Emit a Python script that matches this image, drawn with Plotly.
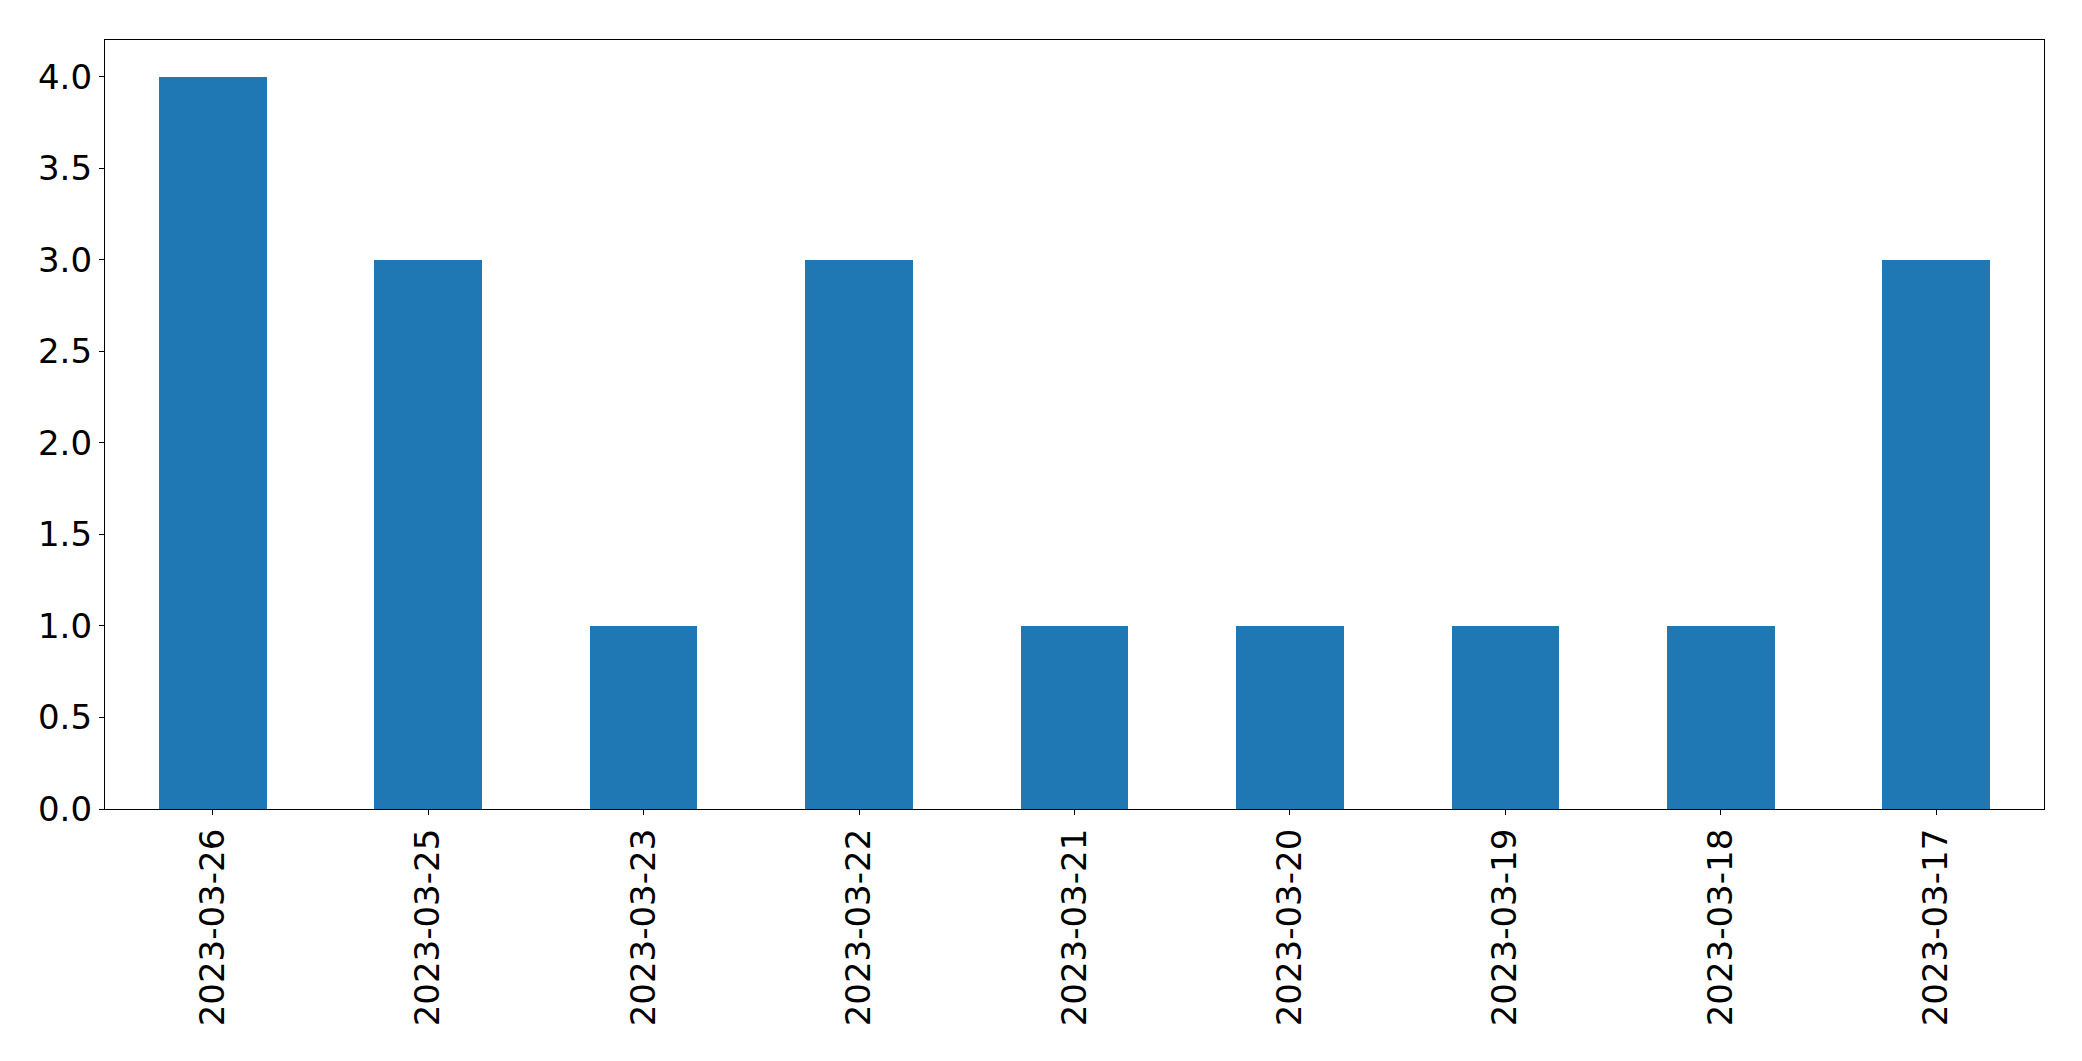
import plotly.graph_objects as go

dates = ["2023-03-26", "2023-03-25", "2023-03-23", "2023-03-22", "2023-03-21",
         "2023-03-20", "2023-03-19", "2023-03-18", "2023-03-17"]
counts = [4, 3, 1, 3, 1, 1, 1, 1, 3]
y_ticks = [0.0, 0.5, 1.0, 1.5, 2.0, 2.5, 3.0, 3.5, 4.0]

fig = go.Figure(go.Bar(x=list(range(len(dates))), y=counts, width=0.5,
                       marker=dict(color="#1f77b4", line=dict(width=0))))

font = dict(family="DejaVu Sans", size=34, color="black")
fig.update_layout(
    width=2066, height=1045, autosize=False,
    margin=dict(l=97, r=30, t=32, b=244),
    paper_bgcolor="white", plot_bgcolor="white",
    showlegend=False, font=font,
    bargap=0,
)
fig.update_xaxes(
    range=[-0.5, len(dates) - 0.5],
    tickmode="array", tickvals=list(range(len(dates))), ticktext=dates,
    tickangle=-90, ticks="outside", ticklen=5, tickwidth=1.3, tickcolor="black",
    showline=True, mirror=True, linecolor="black", linewidth=1.3,
    showgrid=False, zeroline=False, tickfont=font,
)
fig.update_yaxes(
    range=[0, 4.2],
    tickmode="array", tickvals=y_ticks, ticktext=[f"{v:.1f}" for v in y_ticks],
    ticks="outside", ticklen=5, tickwidth=1.3, tickcolor="black",
    showline=True, mirror=True, linecolor="black", linewidth=1.3,
    showgrid=False, zeroline=False, tickfont=font,
)
fig.write_html("out.html")
